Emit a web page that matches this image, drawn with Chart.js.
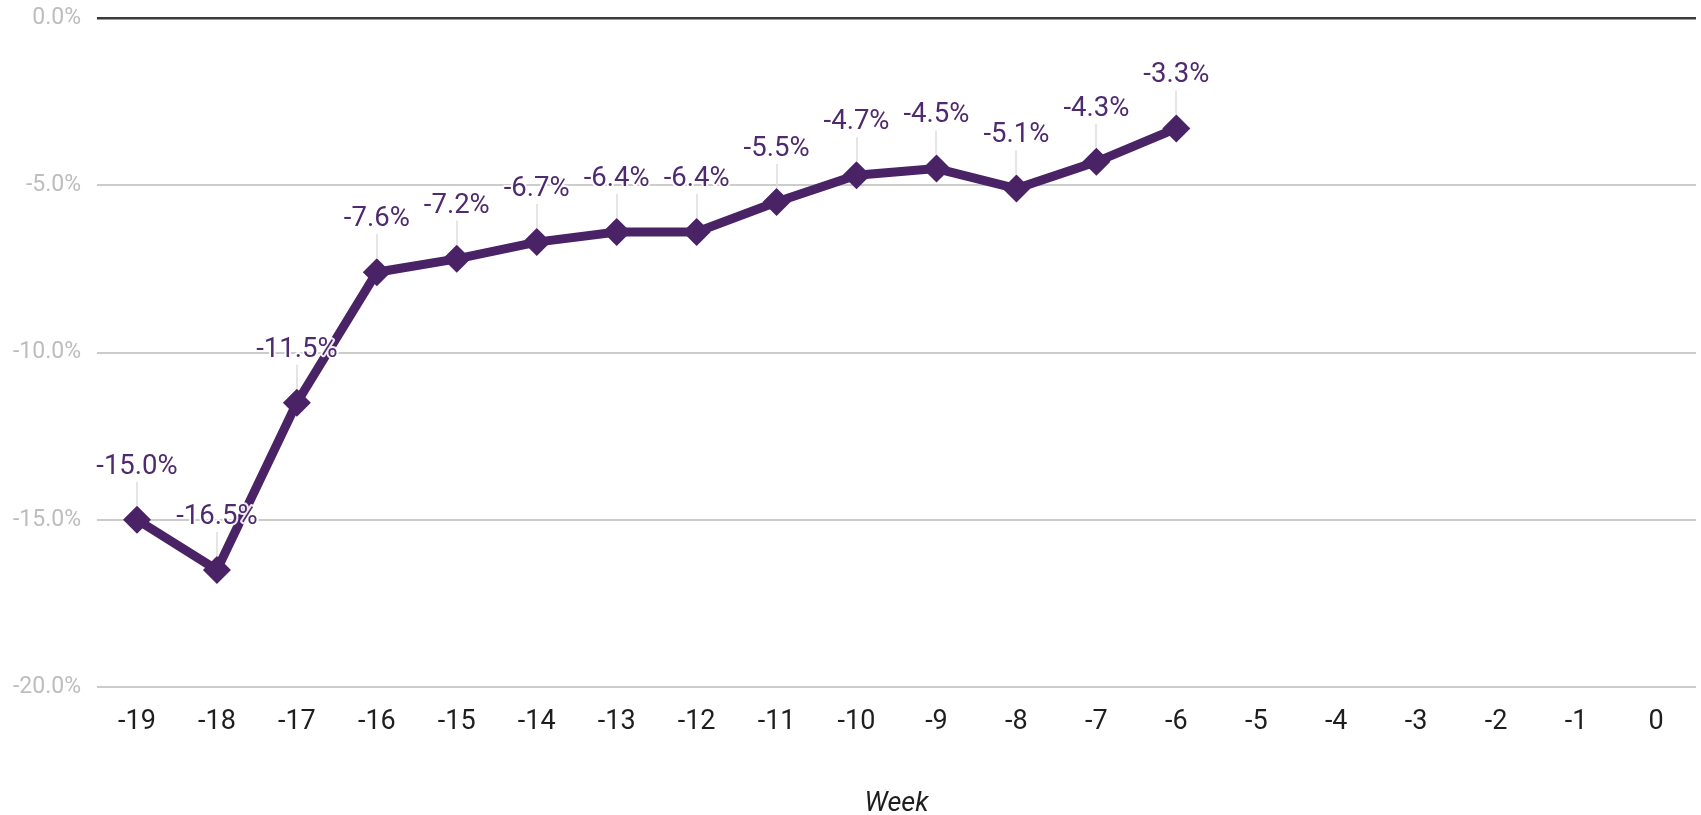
<!DOCTYPE html>
<html>
<head>
<meta charset="utf-8">
<script src="https://cdn.jsdelivr.net/npm/chart.js@4"></script>
<style>
html,body{margin:0;padding:0;background:#fff;}
#wrap{width:1701px;height:815px;}
</style>
</head>
<body>
<div id="wrap"><canvas id="c" width="1701" height="815"></canvas></div>
<script>
const weeks = ['-19','-18','-17','-16','-15','-14','-13','-12','-11','-10','-9','-8','-7','-6','-5','-4','-3','-2','-1','0'];
const changePct = [-15.0,-16.5,-11.5,-7.6,-7.2,-6.7,-6.4,-6.4,-5.5,-4.7,-4.5,-5.1,-4.3,-3.3,null,null,null,null,null,null];
const yTicks = [0,-5,-10,-15,-20];
const xTitle = 'Week';

const lineColor = '#4a2366';
const labelColor = '#4e2a6e';

const labelPlugin = {
  id: 'pointLabels',
  afterDatasetsDraw(chart) {
    const ctx = chart.ctx;
    const meta = chart.getDatasetMeta(0);
    ctx.save();
    ctx.font = '27.5px Roboto';
    ctx.textAlign = 'center';
    ctx.textBaseline = 'middle';
    meta.data.forEach((pt, i) => {
      const v = changePct[i];
      if (v === null || v === undefined) return;
      const x = pt.x, y = pt.y;
      const ly = y - 53;
      ctx.strokeStyle = '#dcdcdc';
      ctx.lineWidth = 1.5;
      ctx.beginPath();
      ctx.moveTo(Math.round(x), y - 14);
      ctx.lineTo(Math.round(x), ly + 15);
      ctx.stroke();
      const txt = v.toFixed(1) + '%';
      ctx.lineWidth = 4;
      ctx.strokeStyle = 'rgba(255,255,255,0.9)';
      ctx.lineJoin = 'round';
      ctx.strokeText(txt, x, ly);
      ctx.fillStyle = labelColor;
      ctx.fillText(txt, x, ly);
    });
    ctx.restore();
  }
};

new Chart(document.getElementById('c'), {
  type: 'line',
  data: {
    labels: weeks,
    datasets: [{
      data: changePct,
      borderColor: lineColor,
      backgroundColor: lineColor,
      borderWidth: 9,
      pointStyle: 'rectRot',
      pointRadius: 14,
      pointHoverRadius: 14,
      pointBackgroundColor: lineColor,
      pointBorderWidth: 0,
      tension: 0,
      spanGaps: false
    }]
  },
  options: {
    responsive: false,
    animation: false,
    layout: { autoPadding: false, padding: { top: 0, right: 5, bottom: 0, left: 0 } },
    plugins: { legend: { display: false }, tooltip: { enabled: false } },
    scales: {
      x: {
        offset: true,
        grid: { display: false, drawTicks: false },
        border: { display: false },
        ticks: { color: '#1e1e1e', font: { family: 'Roboto', size: 27 }, padding: 19, maxRotation: 0, autoSkip: false },
        title: { display: true, text: xTitle, color: '#1e1e1e', font: { family: 'Roboto', size: 27, style: 'italic' }, padding: { top: 0, bottom: -5 } },
        afterFit(s) { s.height = 128; s.paddingLeft = 0; s.paddingRight = 0; }
      },
      y: {
        min: -20, max: 0,
        afterBuildTicks(s) { s.ticks = yTicks.map(v => ({ value: v })); },
        grid: {
          drawTicks: false,
          color: c => (c.tick && c.tick.value === 0) ? '#3a3a3a' : '#cccccc',
          lineWidth: c => (c.tick && c.tick.value === 0) ? 2.5 : 2
        },
        border: { display: false },
        ticks: { color: '#bdbdbd', font: { family: 'Roboto', size: 23 }, padding: 16, callback: v => Number(v).toFixed(1) + '%' },
        afterFit(s) { s.width = 97; s.paddingTop = 18; s.paddingBottom = 14; }
      }
    }
  },
  plugins: [labelPlugin]
});
</script>
</body>
</html>
